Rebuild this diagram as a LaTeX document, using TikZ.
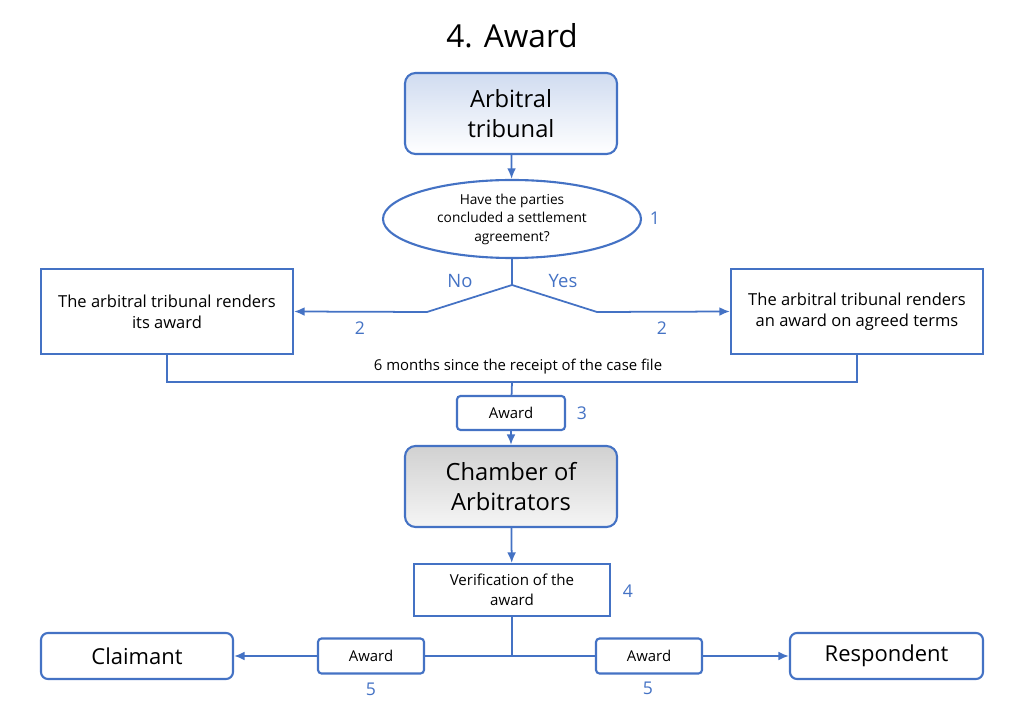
\documentclass[tikz,border=0pt]{standalone}
\usepackage{fontspec}
\setmainfont{Open Sans}
\usetikzlibrary{shapes.geometric,arrows.meta}
\definecolor{bl}{HTML}{4472C4}
\begin{document}
\begin{tikzpicture}[x=0.02cm,y=-0.02cm,
 every node/.style={inner sep=0pt},
 box/.style={draw=bl,line width=1.2pt,fill=white,align=center},
 arr/.style={draw=bl,line width=1pt,-{Latex[length=6pt,width=5pt]}},
 ln/.style={draw=bl,line width=1pt},
 num/.style={text=bl,font=\fontsize{10}{12}\selectfont},
 small/.style={font=\fontsize{8.5}{11}\selectfont}]
\useasboundingbox (0,0) rectangle (1024,709);
\node (title) at (512,36) {\fontsize{18}{22}\selectfont 4. Award};
\node[box,rounded corners=6pt,top color=bl!25,bottom color=white,minimum width=212*0.02cm,minimum height=81*0.02cm,font=\fontsize{13.5}{17}\selectfont] (at) at (511,113.5) {Arbitral\\tribunal};
\node[draw=bl,line width=1.2pt,ellipse,minimum width=258*0.02cm,minimum height=78*0.02cm,align=center,font=\fontsize{7.8}{10.5}\selectfont] (q) at (512,219) {Have the parties\\concluded a settlement\\agreement?};
\node[num] (n1) at (655,218) {1};
\draw[arr] (at) -- (q);
\node[box,minimum width=252*0.02cm,minimum height=85*0.02cm,font=\fontsize{9.4}{12}\selectfont] (l) at (167,311.5) {The arbitral tribunal renders\\its award};
\node[box,minimum width=252*0.02cm,minimum height=85*0.02cm,font=\fontsize{9.4}{12}\selectfont] (r) at (857,311.5) {The arbitral tribunal renders\\an award on agreed terms};
\coordinate (s) at (512,285);
\draw[ln] (q.south) -- (s);
\draw[arr] (s) -- (427,312) -- (l.east);
\draw[arr] (s) -- (597,312) -- (r.west);
\node[text=bl,font=\fontsize{10.5}{12}\selectfont] at (460,281) {No};
\node[text=bl,font=\fontsize{10.5}{12}\selectfont] at (563,281) {Yes};
\node[num] at (360,328) {2};
\node[num] at (662,328) {2};
\coordinate (j) at (512,382);
\draw[ln] (l.south) -- (167,382) -- (857,382) -- (r.south);
\node[small] at (518,367) {6 months since the receipt of the case file};
\node[box,rounded corners=2pt,minimum width=108*0.02cm,minimum height=34*0.02cm,small] (aw) at (511,413) {Award};
\node[num] at (582,413) {3};
\draw[ln] (j) -- (aw);
\node[box,rounded corners=6pt,top color=black!18,bottom color=black!4,minimum width=212*0.02cm,minimum height=81*0.02cm,font=\fontsize{13.5}{17}\selectfont] (ch) at (511,486.5) {Chamber of\\Arbitrators};
\draw[arr] (aw) -- (ch);
\node[box,minimum width=196*0.02cm,minimum height=52*0.02cm,font=\fontsize{8.6}{11.5}\selectfont] (v) at (512,590) {Verification of the\\award};
\node[num] at (628,591) {4};
\draw[arr] (ch) -- (v);
\coordinate (k) at (512,656);
\node[box,rounded corners=2pt,minimum width=106*0.02cm,minimum height=35*0.02cm,small] (a1) at (371,656) {Award};
\node[box,rounded corners=2pt,minimum width=106*0.02cm,minimum height=35*0.02cm,small] (a2) at (649,656) {Award};
\node[box,rounded corners=4pt,minimum width=192*0.02cm,minimum height=46*0.02cm,font=\fontsize{12.5}{15}\selectfont] (cl) at (137,656) {Claimant};
\node[box,rounded corners=4pt,minimum width=193*0.02cm,minimum height=46*0.02cm,font=\fontsize{12.5}{15}\selectfont] (re) at (886.5,656) {Respondent};
\draw[ln] (v) -- (k) -- (a1.east);
\draw[ln] (k) -- (a2.west);
\draw[arr] (a1) -- (cl);
\draw[arr] (a2) -- (re);
\node[num] at (371,689) {5};
\node[num] at (648,688) {5};
\end{tikzpicture}
\end{document}
